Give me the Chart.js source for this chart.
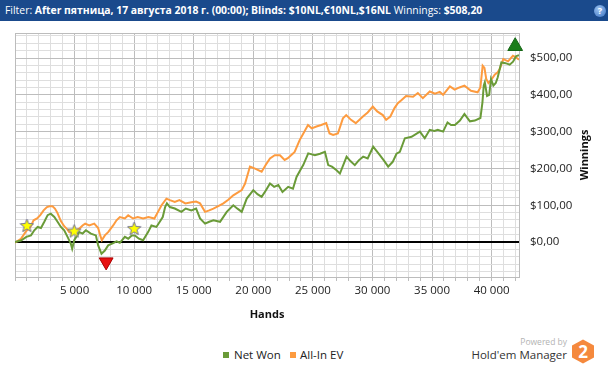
<!DOCTYPE html>
<html>
<head>
<meta charset="utf-8">
<script src="https://cdn.jsdelivr.net/npm/chart.js@4.4.0/dist/chart.umd.min.js"></script>
<style>
html,body{margin:0;padding:0;background:#fff;width:608px;height:368px;overflow:hidden;font-family:"Open Sans",sans-serif;}
#hdr{position:absolute;left:0;top:0;width:608px;height:21px;background:#1a4a8c;color:#fff;font-size:10.4px;line-height:21px;white-space:nowrap;}
#hdr .t{position:absolute;left:5px;top:0;}
#hdr b{font-weight:700;}
#help{position:absolute;left:594px;top:5px;width:12px;height:12px;border-radius:50%;background:radial-gradient(circle at 40% 35%,#9cc3f0,#3a72c2);color:#fff;font-size:9px;font-weight:700;line-height:12px;text-align:center;}
#wrap{position:absolute;left:0;top:21px;width:608px;height:303px;}
#wrap canvas{display:block;}
.sq{position:absolute;width:6px;height:6px;top:352px;}
.lg{position:absolute;top:346px;font-size:11.5px;line-height:18px;color:#222;white-space:nowrap;}
#pw{position:absolute;right:41px;top:335px;font-size:8.5px;line-height:14px;color:#b3b3b3;white-space:nowrap;}
#hm{position:absolute;right:41px;top:346px;font-size:11.5px;line-height:18px;color:#333;white-space:nowrap;}
#logo{position:absolute;left:571px;top:339px;}
</style>
</head>
<body>
<div id="hdr"><span class="t">Filter: <b>After пятница, 17 августа 2018 г. (00:00); Blinds: $10NL,€10NL,$16NL</b> Winnings: <b>$508,20</b></span><div id="help">?</div></div>
<div id="wrap"><canvas id="c" width="608" height="303"></canvas></div>
<div class="sq" style="left:223px;background:#6a9b38"></div>
<div class="lg" style="left:234px">Net Won</div>
<div class="sq" style="left:290px;background:#fd9b3f"></div>
<div class="lg" style="left:300px">All-In EV</div>
<div id="pw">Powered by</div>
<div id="hm">Hold'em Manager</div>
<svg id="logo" width="24" height="25" viewBox="0 0 24 25"><polygon points="12,0.5 23,6.5 23,18.5 12,24.5 1,18.5 1,6.5" fill="#f5893d"/><text x="12" y="19" text-anchor="middle" font-family="Open Sans, sans-serif" font-weight="700" font-size="17" fill="#fff">2</text></svg>
<script>
// ---- data ----
const netWonHands = [0,500,950,1340,1620,1900,2180,2460,2740,3000,3300,3570,3850,4130,4410,4690,4800,4970,5390,5670,5950,6370,6790,6980,7260,7540,7820,8240,8520,8800,9220,9500,9800,10060,10400,10750,11170,11450,11870,12150,12400,12600,12750,13000,13410,13970,14330,14800,15200,15530,15950,16300,16650,17210,17770,18320,18700,19030,19450,20000,20350,20700,21050,21400,21750,22100,22450,22930,23330,23630,24020,24190,24610,25170,25600,26010,26290,26600,26990,27270,27830,28150,28520,28850,29220,29600,30060,30620,31000,31320,31700,32020,32300,32720,33280,33980,34390,34810,35200,35480,35930,36300,36600,36920,37340,37720,38180,38590,39060,39230,39340,39430,39620,39800,39950,40150,40350,40510,40820,41170,41520,41800,42050,42300];
const netWonValues = [0,4,14,18,32,41,38,55,73,77,68,55,41,32,14,-5,-18,5,27,23,32,23,18,-9,-32,-23,-9,-3,2,-2,14,9,18,18,9,5,27,45,41,55,68,95,105,95,91,82,91,86,91,64,50,55,59,55,82,100,90,82,118,141,130,123,140,159,150,155,136,150,145,177,200,209,241,236,240,245,209,205,195,186,232,220,209,222,232,227,259,236,220,205,218,240,245,282,286,300,282,305,302,305,300,325,318,318,330,348,328,330,337,379,425,434,397,400,443,425,432,447,488,486,482,490,505,508];
const allInHands = [0,500,950,1300,1560,1850,2120,2400,2680,2900,3150,3350,3550,3850,4130,4350,4550,4750,4970,5390,5670,5890,6230,6650,6980,7150,7290,7540,7820,8240,8520,8800,9220,9500,9900,10300,10750,11200,11700,12000,12300,12710,13000,13410,13800,14300,14800,15200,15530,15950,16300,16650,17100,17490,17900,18320,19030,19310,19720,20100,20700,21050,21400,21800,22240,22630,22900,23350,23470,23890,24200,24590,24900,25300,25700,26120,26400,26700,27100,27520,27800,28200,28600,29200,29600,30030,30400,30870,31150,31500,31850,32130,32450,32820,33410,33810,34230,34810,35250,35650,35930,36500,36900,37300,37720,38270,38830,39060,39250,39400,39550,39730,39980,40260,40510,40680,40980,41380,41790,42050,42300];
const allInValues = [-2,9,30,41,59,64,73,86,95,97,97,91,80,57,43,36,27,25,30,36,45,50,45,50,38,18,5,18,27,45,59,68,64,73,64,68,64,68,64,82,100,118,114,109,114,105,108,110,105,82,86,91,98,105,115,127,141,159,205,200,191,210,227,236,236,223,228,241,245,277,295,318,309,314,318,323,295,291,295,336,345,332,323,341,352,368,355,345,332,341,364,377,386,397,395,405,391,409,403,408,400,423,414,420,425,411,407,420,479,473,443,432,441,455,461,470,497,491,506,502,495];
const starHands = [1000,4970,10000];
const starValues = [45,30,37];
const minHands = [7650];
const minValues = [-54];
const maxHands = [41980];
const maxValues = [532];
const xTickValues = [5000,10000,15000,20000,25000,30000,35000,40000];
const xTickLabels = ['5 000','10 000','15 000','20 000','25 000','30 000','35 000','40 000'];
const yTickValues = [0,100,200,300,400,500];
const yTickLabels = ['$0,00','$100,00','$200,00','$300,00','$400,00','$500,00'];
const seriesNames = ['Net Won','All-In EV'];

const GREEN = '#6a9b38', ORANGE = '#fd9b3f';
const MAJOR = '#bdbdbd', MINOR = '#dedede';

function pts(h, v){ return h.map((x,i)=>({x:x, y:v[i]})); }

const star = document.createElement('canvas');
star.width = 15; star.height = 15;
(function(){
  const g = star.getContext('2d');
  g.beginPath();
  for (let i=0;i<10;i++){
    const r = i%2===0 ? 7 : 3;
    const a = -Math.PI/2 + i*Math.PI/5;
    const px = 7.5 + r*Math.cos(a), py = 8 + r*Math.sin(a);
    if(i===0) g.moveTo(px,py); else g.lineTo(px,py);
  }
  g.closePath();
  g.fillStyle = '#ffff00'; g.fill();
  g.strokeStyle = '#6f6f94'; g.lineWidth = 1; g.stroke();
})();

const frame = {
  id:'frame',
  beforeDatasetsDraw(chart){
    const {ctx, chartArea:a} = chart;
    ctx.save();
    ctx.strokeStyle = '#bcbcbc'; ctx.lineWidth = 1;
    ctx.strokeRect(Math.round(a.left)+0.5, Math.round(a.top)+0.5, Math.round(a.right-a.left), Math.round(a.bottom-a.top));
    ctx.restore();
  },
  afterDraw(chart){
    const {ctx, chartArea:a} = chart;
    ctx.save();
    ctx.translate(585, (a.top+a.bottom)/2);
    ctx.rotate(-Math.PI/2);
    ctx.font = 'bold 11px "Open Sans", sans-serif';
    ctx.fillStyle = '#111';
    ctx.textAlign = 'center'; ctx.textBaseline = 'middle';
    ctx.fillText('Winnings', 0, 0);
    ctx.restore();
  }
};

Chart.defaults.font.family = '"Open Sans", sans-serif';
Chart.defaults.color = '#222';

new Chart(document.getElementById('c'), {
  type: 'line',
  data: {
    datasets: [
      {label:'max', data: pts(maxHands,maxValues), showLine:false, pointStyle:'triangle', pointRadius:8.5, pointBackgroundColor:'#1b7d1b', pointBorderColor:'#156615', pointBorderWidth:1, order:-2, clip:false},
      {label:'min', data: pts(minHands,minValues), showLine:false, pointStyle:'triangle', rotation:180, pointRadius:8, pointBackgroundColor:'#e81010', pointBorderColor:'#a00', pointBorderWidth:1, order:-2, clip:false},
      {label:'notes', data: pts(starHands,starValues), showLine:false, pointStyle: star, pointRadius:7, order:-2, clip:false},
      {label: seriesNames[0], data: pts(netWonHands, netWonValues), borderColor: GREEN, borderWidth: 2, pointRadius: 0, tension: 0, order: 0},
      {label: seriesNames[1], data: pts(allInHands, allInValues), borderColor: ORANGE, borderWidth: 2, pointRadius: 0, tension: 0, order: 1}
    ]
  },
  options: {
    responsive: false,
    animation: false,
    events: [],
    layout: {padding: {left: 15, top: 12, right: 0, bottom: 0}},
    plugins: {legend: {display: false}, tooltip: {enabled: false}},
    scales: {
      x: {
        type: 'linear', min: 0, max: 42300,
        afterBuildTicks(s){ const t=[]; for(let v=0; v<=42000; v+=1000) t.push({value:v}); s.ticks=t; },
        afterFit(s){ s.height = 47; s.paddingLeft = 0; s.paddingRight = 0; },
        ticks: {autoSkip:false, maxRotation:0, minRotation:0, padding:3, color:'#222', font:{size:11.5},
          callback(v){ const i = xTickValues.indexOf(v); return i>=0 ? xTickLabels[i] : ''; }},
        grid: {
          color: c => (c.tick && c.tick.value % 5000 === 0) ? MAJOR : MINOR,
          tickColor: '#bdbdbd', tickLength: 4, drawTicks: true
        },
        border: {display: false},
        title: {display: true, text: 'Hands', color:'#111', font: {size: 11, weight: 'bold'}, padding: {top: 8, bottom: 3}}
      },
      y: {
        type: 'linear', position: 'right', min: -95, max: 568,
        afterBuildTicks(s){ const t=[]; for(let v=-80; v<=560; v+=20) t.push({value:v}); s.ticks=t; },
        afterFit(s){ s.width = 89; s.paddingTop = 0; s.paddingBottom = 0; },
        ticks: {autoSkip:false, padding: 11, color:'#222', font:{size:11.5},
          callback(v){ const i = yTickValues.indexOf(v); return i>=0 ? yTickLabels[i] : ''; }},
        grid: {
          color: c => !c.tick ? MINOR : (c.tick.value === 0 ? '#000' : (c.tick.value % 100 === 0 ? MAJOR : MINOR)),
          lineWidth: c => (c.tick && c.tick.value === 0) ? 2 : 1,
          drawTicks: false
        },
        border: {display: false}
      }
    }
  },
  plugins: [frame]
});
</script>
</body>
</html>
